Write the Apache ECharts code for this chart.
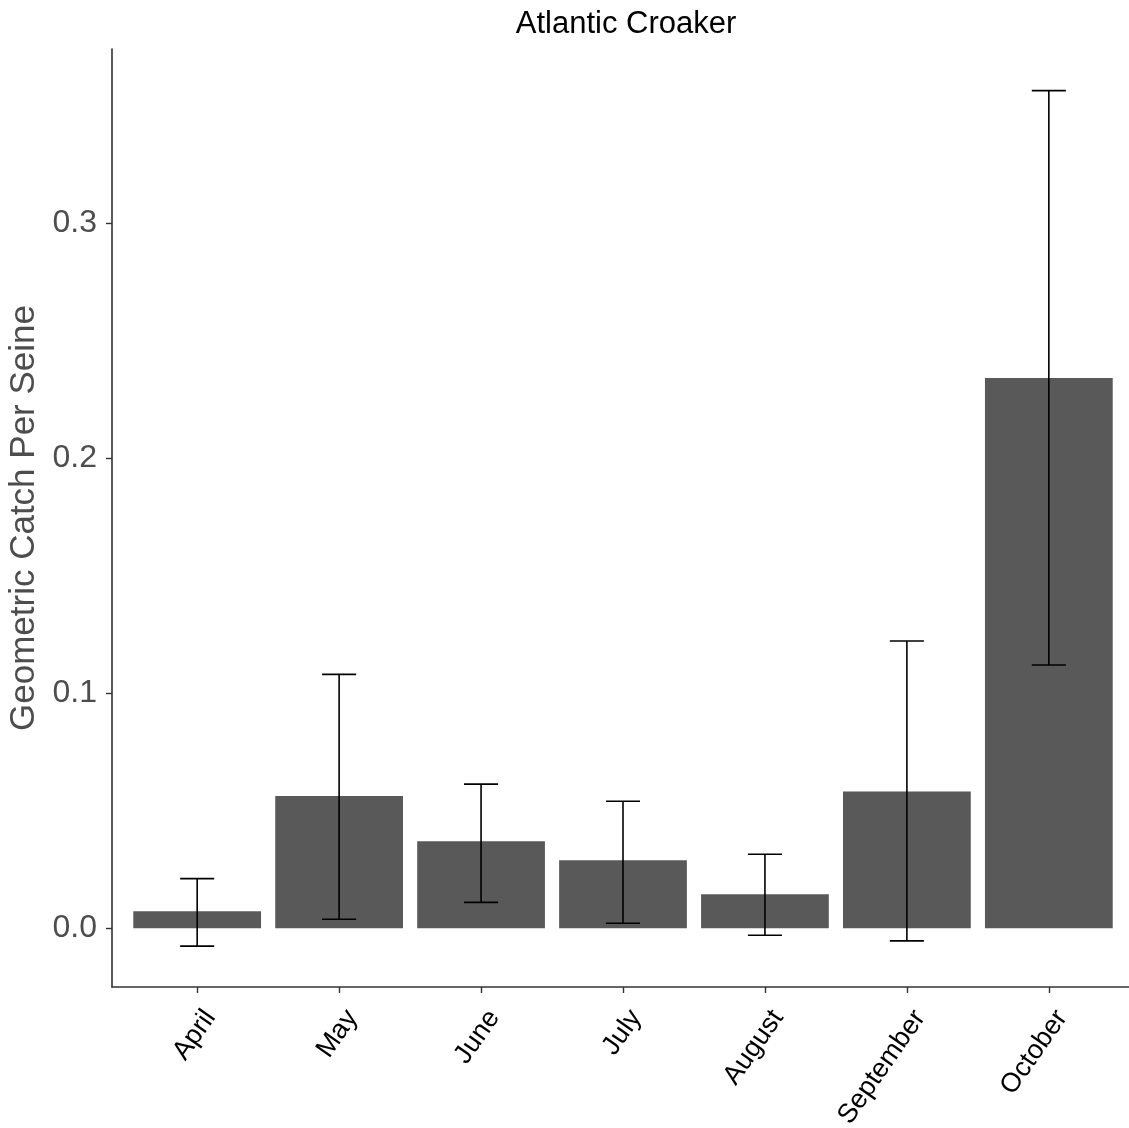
<!DOCTYPE html>
<html>
<head>
<meta charset="utf-8">
<script src="https://cdn.jsdelivr.net/npm/echarts@6/dist/echarts.min.js"></script>
<style>
  html, body { margin: 0; padding: 0; background: #ffffff; }
  #chart { width: 1129px; height: 1128px; }
</style>
</head>
<body>
<div id="chart"></div>
<script>
// Monthly geometric mean catch per seine haul, with error bar limits
const months = ['April', 'May', 'June', 'July', 'August', 'September', 'October'];
const meanCatch = [0.0072, 0.0562, 0.0370, 0.0289, 0.0145, 0.0582, 0.2340];
const lowerLimit = [-0.0076, 0.0038, 0.0110, 0.0021, -0.0030, -0.0054, 0.1120];
const upperLimit = [0.0211, 0.1080, 0.0613, 0.0540, 0.0315, 0.1222, 0.3563];
const yTicks = [0, 0.1, 0.2, 0.3];

const positions = months.map((m, i) => i + 1);
const barData = positions.map((x, i) => [x, meanCatch[i]]);
const errData = positions.map((x, i) => [x, lowerLimit[i], upperLimit[i]]);
const labelData = positions.map((x, i) => [x, 0, months[i]]);

const FONT = '"Liberation Sans", Arial, sans-serif';
const BAR_HALF = 0.45;
const CAP_HALF = 0.12;
const LABEL_ANGLE = 55;

const chart = echarts.init(document.getElementById('chart'), null, { renderer: 'canvas' });

chart.setOption({
  animation: false,
  backgroundColor: '#ffffff',
  title: {
    text: 'Atlantic Croaker',
    left: 621,
    top: 4,
    textAlign: 'center',
    textStyle: { fontFamily: FONT, fontSize: 31, fontWeight: 'normal', color: '#000000' }
  },
  grid: { left: 112, top: 49, right: -5, bottom: 141, containLabel: false, outerBoundsMode: 'none' },
  xAxis: {
    type: 'value',
    min: 0.4,
    max: 7.6,
    splitLine: { show: false },
    axisLine: { show: true, onZero: false, lineStyle: { color: '#333333', width: 1.6 } },
    axisTick: { show: true, customValues: positions, length: 6, lineStyle: { color: '#333333', width: 1.4 } },
    axisLabel: { show: false }
  },
  yAxis: {
    type: 'value',
    min: -0.025,
    max: 0.374,
    name: 'Geometric Catch Per Seine',
    nameLocation: 'middle',
    nameGap: 66,
    nameRotate: 90,
    nameTextStyle: { fontFamily: FONT, fontSize: 35, color: '#4d4d4d' },
    splitLine: { show: false },
    axisLine: { show: true, onZero: false, lineStyle: { color: '#333333', width: 1.6 } },
    axisTick: { show: true, customValues: yTicks, length: 6, lineStyle: { color: '#333333', width: 1.4 } },
    axisLabel: {
      customValues: yTicks,
      margin: 15,
      fontFamily: FONT,
      fontSize: 32,
      color: '#4d4d4d',
      formatter: v => v.toFixed(1)
    }
  },
  series: [
    {
      type: 'custom',
      name: 'mean',
      data: barData,
      encode: { x: 0, y: 1 },
      renderItem: (params, api) => {
        const x = api.value(0);
        const v = api.value(1);
        const p1 = api.coord([x - BAR_HALF, v]);
        const p2 = api.coord([x + BAR_HALF, 0]);
        return {
          type: 'rect',
          shape: { x: p1[0], y: Math.min(p1[1], p2[1]), width: p2[0] - p1[0], height: Math.abs(p2[1] - p1[1]) },
          style: { fill: '#595959' }
        };
      }
    },
    {
      type: 'custom',
      name: 'error',
      data: errData,
      encode: { x: 0, y: [1, 2] },
      z: 3,
      renderItem: (params, api) => {
        const x = api.value(0);
        const lo = api.value(1);
        const hi = api.value(2);
        const top = api.coord([x, hi]);
        const bot = api.coord([x, lo]);
        const capL = api.coord([x - CAP_HALF, hi])[0];
        const capR = api.coord([x + CAP_HALF, hi])[0];
        const style = { stroke: '#000000', lineWidth: 1.6 };
        return {
          type: 'group',
          children: [
            { type: 'line', shape: { x1: top[0], y1: top[1], x2: bot[0], y2: bot[1] }, style },
            { type: 'line', shape: { x1: capL, y1: top[1], x2: capR, y2: top[1] }, style },
            { type: 'line', shape: { x1: capL, y1: bot[1], x2: capR, y2: bot[1] }, style }
          ]
        };
      }
    },
    {
      // Rotated month labels under the x axis ticks
      type: 'custom',
      name: 'monthLabels',
      data: labelData,
      encode: { x: 0, y: 1 },
      silent: true,
      clip: false,
      renderItem: (params, api) => {
        const px = api.coord([api.value(0), 0])[0];
        const axisY = params.coordSys.y + params.coordSys.height;
        return {
          type: 'text',
          x: px + 13,
          y: axisY + 26,
          rotation: LABEL_ANGLE * Math.PI / 180,
          style: {
            text: months[params.dataIndex],
            fontFamily: FONT,
            fontSize: 27,
            fill: '#000000',
            align: 'right',
            verticalAlign: 'middle'
          }
        };
      }
    }
  ]
});
</script>
</body>
</html>
